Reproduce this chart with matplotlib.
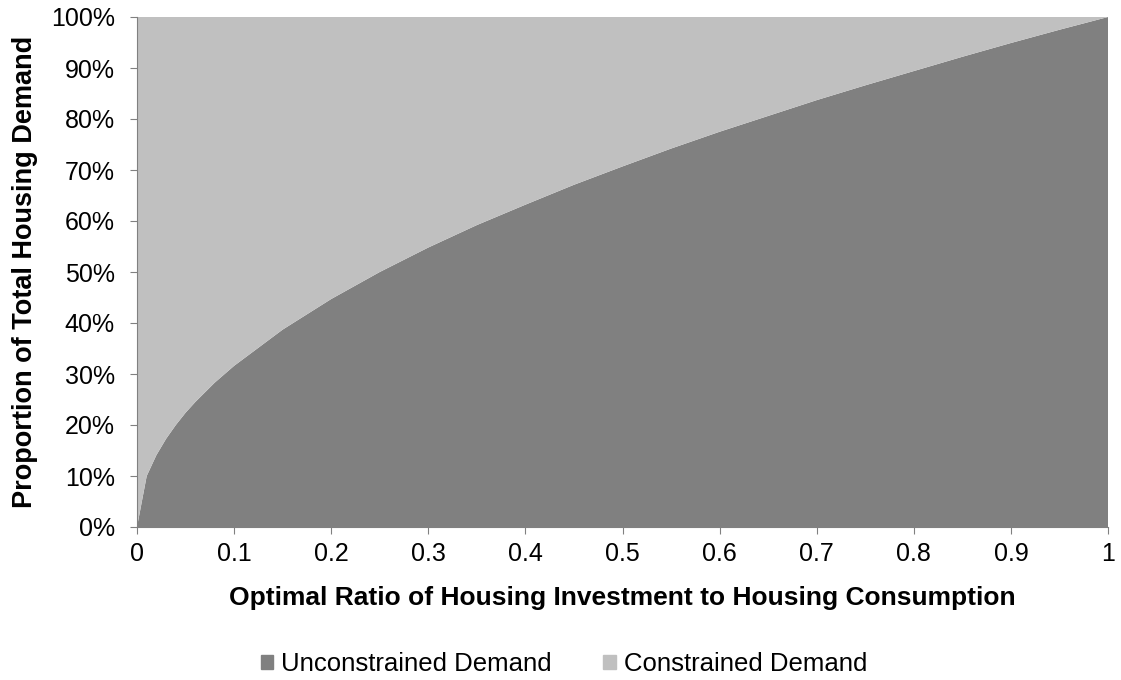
import matplotlib.pyplot as plt
from matplotlib.patches import Patch

# Datos
ratio = [0, 0.01, 0.02, 0.03, 0.04, 0.05, 0.06, 0.08, 0.1, 0.15, 0.2, 0.25, 0.3, 0.35,
         0.4, 0.45, 0.5, 0.55, 0.6, 0.65, 0.7, 0.75, 0.8, 0.85, 0.9, 0.95, 1.0]
unconstrained = [0, 0.10, 0.141, 0.173, 0.20, 0.224, 0.245, 0.283, 0.316, 0.387, 0.447, 0.50,
                 0.548, 0.592, 0.632, 0.671, 0.707, 0.742, 0.775, 0.806, 0.837, 0.866, 0.894,
                 0.922, 0.949, 0.975, 1.0]
constrained = [1 - u for u in unconstrained]
x_ticks = [0, 0.1, 0.2, 0.3, 0.4, 0.5, 0.6, 0.7, 0.8, 0.9, 1]
x_labels = ['0', '0.1', '0.2', '0.3', '0.4', '0.5', '0.6', '0.7', '0.8', '0.9', '1']
y_ticks = [i / 10 for i in range(11)]
y_labels = [f'{i * 10}%' for i in range(11)]

plt.rcParams['font.family'] = ['Liberation Sans', 'DejaVu Sans']

fig = plt.figure(figsize=(11.21, 6.8), dpi=100)
ax = fig.add_axes([137 / 1121, 1 - 527 / 680, 971 / 1121, 510 / 680])

dark = '#808080'
light = '#C0C0C0'
ax.stackplot(ratio, unconstrained, constrained, colors=[dark, light], linewidth=0)

ax.set_xlim(0, 1)
ax.set_ylim(0, 1)
ax.set_xticks(x_ticks)
ax.set_xticklabels(x_labels, fontsize=18)
ax.set_yticks(y_ticks)
ax.set_yticklabels(y_labels, fontsize=18)
ax.tick_params(axis='both', length=5, color='#808080', direction='out')
ax.tick_params(axis='x', pad=6)
ax.tick_params(axis='y', pad=11)
for s in ['top', 'right']:
    ax.spines[s].set_visible(False)
for s in ['left', 'bottom']:
    ax.spines[s].set_color('#808080')

ax.set_xlabel('Optimal Ratio of Housing Investment to Housing Consumption', fontsize=19,
              fontweight='bold', labelpad=14)
ax.set_ylabel('Proportion of Total Housing Demand', fontsize=19.5, fontweight='bold', labelpad=9)

handles = [Patch(color=dark, label='Unconstrained Demand'),
           Patch(color=light, label='Constrained Demand')]
fig.legend(handles=handles, loc='center', bbox_to_anchor=(0.503, 1 - 664 / 680), ncol=2,
           frameon=False, fontsize=18.5, handlelength=0.5, handleheight=0.5,
           handletextpad=0.3, columnspacing=2.0, borderpad=0)

fig.savefig('out.png', dpi=100)
